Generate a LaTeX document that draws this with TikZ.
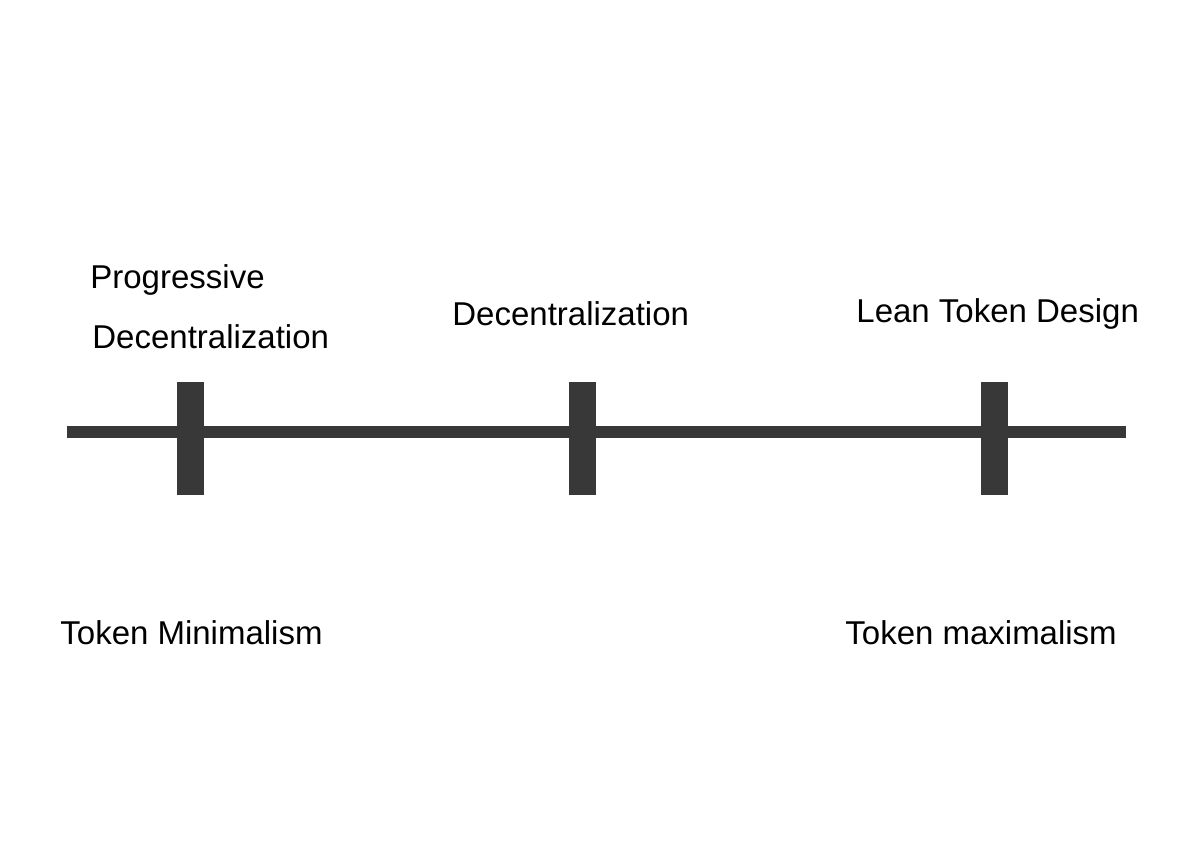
\documentclass[tikz,border=0pt]{standalone}
\usepackage{fontspec}
\setmainfont{Liberation Sans}
\begin{document}
\begin{tikzpicture}[x=0.5pt,y=-0.5pt,
  lbl/.style={anchor=west,inner sep=0pt,font=\fontsize{16.5pt}{20pt}\selectfont,text=black},
  tick/.style={fill=black!78,draw=none}]
\useasboundingbox (0,0) rectangle (1200,853);
\fill[white] (0,0) rectangle (1200,853);
\fill[black!78] (67,426) rectangle (1126,438);
\coordinate (L) at (67,432);
\coordinate (R) at (1126,432);
\fill[tick] (177,382) rectangle (204,495);
\fill[tick] (569,382) rectangle (596,495);
\fill[tick] (981,382) rectangle (1008,495);
\node[lbl] (p1) at (90,280) {Progressive};
\node[lbl] (p2) at (92,337) {Decentralization};
\node[lbl] (d) at (452,314) {Decentralization};
\node[lbl] (l) at (856,314) {Lean Token Design};
\node[lbl] (tm) at (60,633) {Token Minimalism};
\node[lbl] (tx) at (845,633) {Token maximalism};
\end{tikzpicture}
\end{document}
